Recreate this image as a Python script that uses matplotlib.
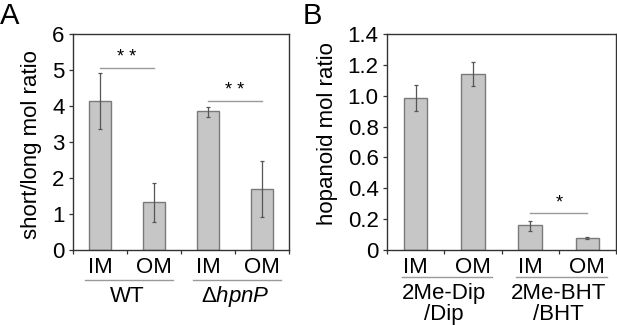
import matplotlib
matplotlib.use("Agg")
import matplotlib.pyplot as plt
import matplotlib.transforms as mtransforms
import numpy as np

plt.rcParams['font.family'] = ['Liberation Sans', 'DejaVu Sans']
plt.rcParams['mathtext.fontset'] = 'custom'
plt.rcParams['mathtext.rm'] = 'Liberation Sans'
plt.rcParams['mathtext.it'] = 'Liberation Sans:italic'

# Panel A data
a_cats = ["IM", "OM", "IM", "OM"]
a_vals = [4.15, 1.32, 3.85, 1.70]
a_lo = [3.35, 0.78, 3.70, 0.93]
a_hi = [4.92, 1.85, 3.98, 2.47]
a_groups = ["WT", r"$\Delta\mathit{hpnP}$"]
a_yticks = [0, 1, 2, 3, 4, 5, 6]
a_sig = [(0, 1, 5.05, "* *"), (2, 3, 4.15, "* *")]

# Panel B data
b_cats = ["IM", "OM", "IM", "OM"]
b_vals = [0.985, 1.14, 0.16, 0.078]
b_lo = [0.90, 1.06, 0.125, 0.072]
b_hi = [1.07, 1.22, 0.19, 0.083]
b_groups = ["2Me-Dip\n/Dip", "2Me-BHT\n/BHT"]
b_yticks = [0, 0.2, 0.4, 0.6, 0.8, 1.0, 1.2, 1.4]
b_yticklabels = ["0", "0.2", "0.4", "0.6", "0.8", "1.0", "1.2", "1.4"]
b_sig = [(2, 3, 0.238, "*")]

W, H = 617, 325
fig = plt.figure(figsize=(W / 100, H / 100), dpi=100)

FS = 16
BAR_FC = "#c6c6c6"
BAR_EC = "#7a7a7a"
ERR_C = "#555555"
SIG_C = "#9a9a9a"


def px_axes(l, r, t, b):
    return fig.add_axes([l / W, (H - b) / H, (r - l) / W, (b - t) / H])


def draw(ax, cats, vals, lo, hi, groups, yticks, yticklabels, ymax, sig,
         ylabel, ylab_x, ylab_y, gline_y, glabel_y, gspan, glabel_va):
    x = np.arange(len(cats))
    vals = np.array(vals)
    yerr = np.array([vals - np.array(lo), np.array(hi) - vals])
    ax.bar(x, vals, width=0.41, color=BAR_FC, edgecolor=BAR_EC, linewidth=1.0, zorder=2)
    ax.errorbar(x, vals, yerr=yerr, fmt="none", ecolor=ERR_C, elinewidth=0.9,
                capsize=1.5, capthick=0.9, zorder=3)
    ax.set_xlim(-0.5, len(cats) - 0.5)
    ax.set_ylim(0, ymax)
    ax.set_yticks(yticks)
    ax.set_yticklabels(yticklabels, fontsize=FS)
    ax.set_xticks(np.arange(-0.5, len(cats), 1.0))
    ax.set_xticklabels([])
    ax.tick_params(axis="both", direction="out", length=3, width=0.9, color="#333333", pad=3)
    for s in ax.spines.values():
        s.set_linewidth(1.0)
        s.set_color("#333333")
    trans = mtransforms.blended_transform_factory(ax.transData, ax.transAxes)
    for xi, c in zip(x, cats):
        ax.text(xi, -0.083, c, transform=trans, ha="center", va="center", fontsize=FS)
    for gi, g in enumerate(groups):
        x0 = 2 * gi
        ax.plot([x0 + gspan[0], x0 + gspan[1]], [gline_y, gline_y], transform=trans,
                color=SIG_C, lw=1.0, clip_on=False)
        ax.text(x0 + 0.5, glabel_y, g, transform=trans, ha="center", va=glabel_va,
                fontsize=FS, linespacing=0.95)
    for i0, i1, yv, st in sig:
        ax.plot([i0, i1], [yv, yv], color=SIG_C, lw=1.0, zorder=3)
        ax.text((i0 + i1) / 2, yv + ymax * 0.008, st, ha="center", va="bottom",
                fontsize=13, zorder=4)
    ax.text(ylab_x, ylab_y, ylabel, transform=ax.transAxes, rotation=90,
            ha="center", va="center", fontsize=FS)


axA = px_axes(73, 289, 34, 250)
draw(axA, a_cats, a_vals, a_lo, a_hi, a_groups, a_yticks, [str(t) for t in a_yticks], 6,
     a_sig, "short/long mol ratio", -0.19, 0.49, -0.14, -0.215, (-0.27, 1.36), "center")

axB = px_axes(387, 616, 34, 250)
draw(axB, b_cats, b_vals, b_lo, b_hi, b_groups, b_yticks, b_yticklabels, 1.4,
     b_sig, "hopanoid mol ratio", -0.262, 0.54, -0.125, -0.155, (-0.24, 1.34), "top")

fig.text(0.0, 0.995, "A", ha="left", va="top", fontsize=21)
fig.text(303 / W, 0.995, "B", ha="left", va="top", fontsize=21)

fig.savefig("out.png", dpi=100)
